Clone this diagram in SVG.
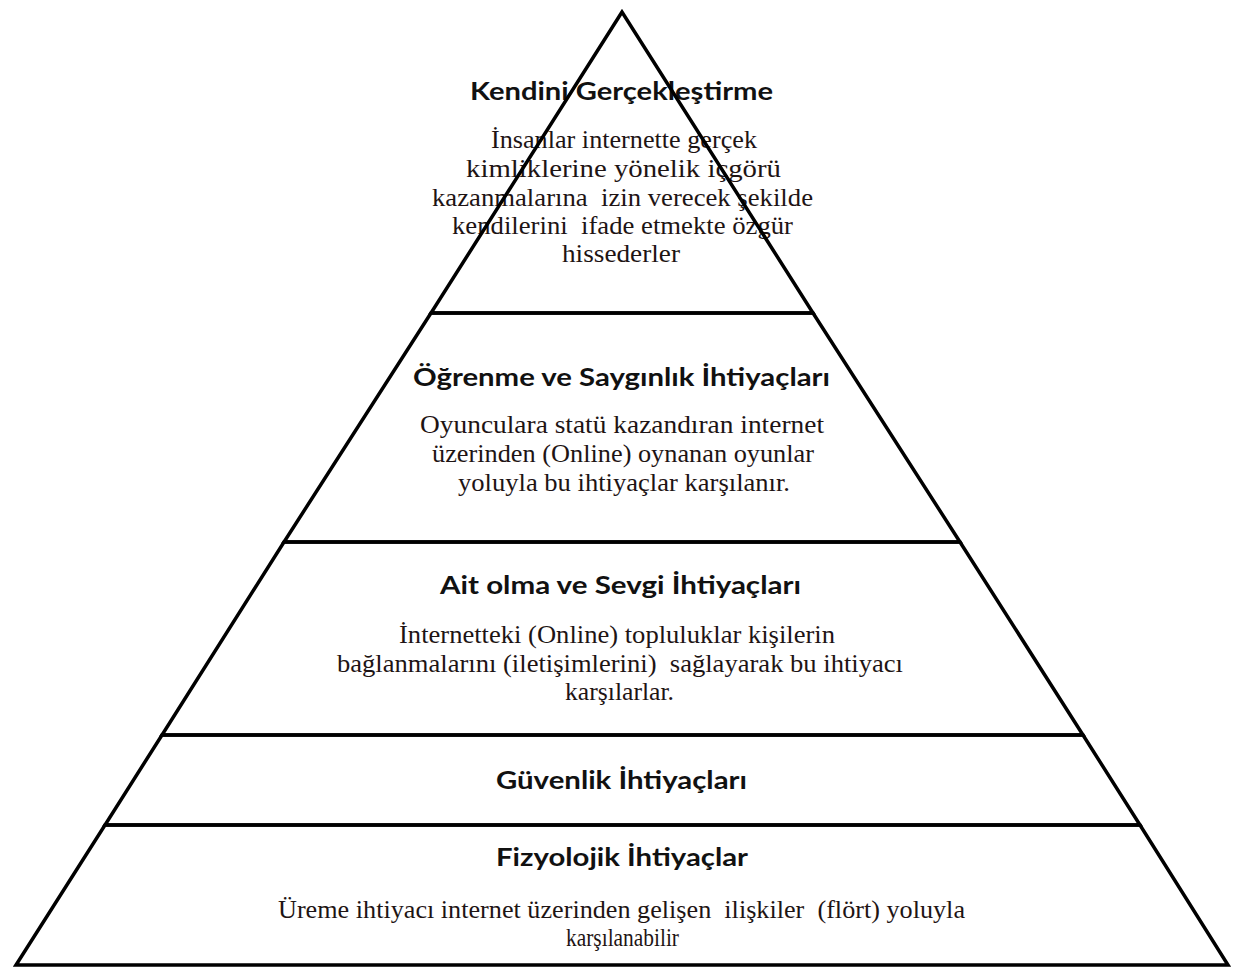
<svg xmlns="http://www.w3.org/2000/svg" width="1233" height="967" viewBox="0 0 1233 967">
  <style>
    .shape { fill: none; stroke: #000; stroke-width: 3.5; stroke-linejoin: miter; }
    .title { font-family: Lato, "Liberation Sans", sans-serif; font-weight: bold; font-size: 25px; fill: #111; text-anchor: middle; }
    .body { font-family: "Liberation Serif", "DejaVu Serif", serif; font-size: 25px; fill: #1e1414; text-anchor: middle; }
  </style>
  <rect x="0" y="0" width="1233" height="967" fill="#fff"/>

  <g id="layer-self-actualization">
    <text class="title" x="621.5" y="100" textLength="303" lengthAdjust="spacingAndGlyphs">Kendini Gerçekleştirme</text>
    <text class="body" x="624" y="148" textLength="266" lengthAdjust="spacingAndGlyphs">İnsanlar internette gerçek</text>
    <text class="body" x="623.5" y="177" textLength="315" lengthAdjust="spacingAndGlyphs">kimliklerine yönelik içgörü</text>
    <text class="body" x="622.5" y="206" textLength="381" lengthAdjust="spacingAndGlyphs" xml:space="preserve">kazanmalarına  izin verecek şekilde</text>
    <text class="body" x="622.5" y="234" textLength="341" lengthAdjust="spacingAndGlyphs" xml:space="preserve">kendilerini  ifade etmekte özgür</text>
    <text class="body" x="621" y="262" textLength="118" lengthAdjust="spacingAndGlyphs">hissederler</text>
    <polygon class="shape" points="622,12 431,313 813,313"/>
  </g>

  <g id="layer-esteem">
    <text class="title" x="621.5" y="386" textLength="417" lengthAdjust="spacingAndGlyphs">Öğrenme ve Saygınlık İhtiyaçları</text>
    <text class="body" x="622" y="433" textLength="404" lengthAdjust="spacingAndGlyphs">Oyunculara statü kazandıran internet</text>
    <text class="body" x="623" y="462" textLength="382" lengthAdjust="spacingAndGlyphs">üzerinden (Online) oynanan oyunlar</text>
    <text class="body" x="624" y="491" textLength="332" lengthAdjust="spacingAndGlyphs">yoluyla bu ihtiyaçlar karşılanır.</text>
    <polygon class="shape" points="431,313 813,313 960,542 284,542"/>
  </g>

  <g id="layer-belonging">
    <text class="title" x="620.5" y="594" textLength="361" lengthAdjust="spacingAndGlyphs">Ait olma ve Sevgi İhtiyaçları</text>
    <text class="body" x="617" y="643" textLength="436" lengthAdjust="spacingAndGlyphs">İnternetteki (Online) topluluklar kişilerin</text>
    <text class="body" x="620" y="672" textLength="566" lengthAdjust="spacingAndGlyphs" xml:space="preserve">bağlanmalarını (iletişimlerini)  sağlayarak bu ihtiyacı</text>
    <text class="body" x="619.5" y="700" textLength="109" lengthAdjust="spacingAndGlyphs">karşılarlar.</text>
    <polygon class="shape" points="284,542 960,542 1083,735 162,735"/>
  </g>

  <g id="layer-safety">
    <text class="title" x="621.5" y="789" textLength="251" lengthAdjust="spacingAndGlyphs">Güvenlik İhtiyaçları</text>
    <polygon class="shape" points="162,735 1083,735 1140,825 105,825"/>
  </g>

  <g id="layer-physiological">
    <text class="title" x="622" y="866" textLength="252" lengthAdjust="spacingAndGlyphs">Fizyolojik İhtiyaçlar</text>
    <text class="body" x="621.5" y="918" textLength="687" lengthAdjust="spacingAndGlyphs" xml:space="preserve">Üreme ihtiyacı internet üzerinden gelişen  ilişkiler  (flört) yoluyla</text>
    <text class="body" x="622.5" y="946" textLength="113" lengthAdjust="spacingAndGlyphs">karşılanabilir</text>
    <polygon class="shape" points="105,825 1140,825 1228,965 16,965"/>
  </g>

  <g id="connectors"></g>
</svg>
